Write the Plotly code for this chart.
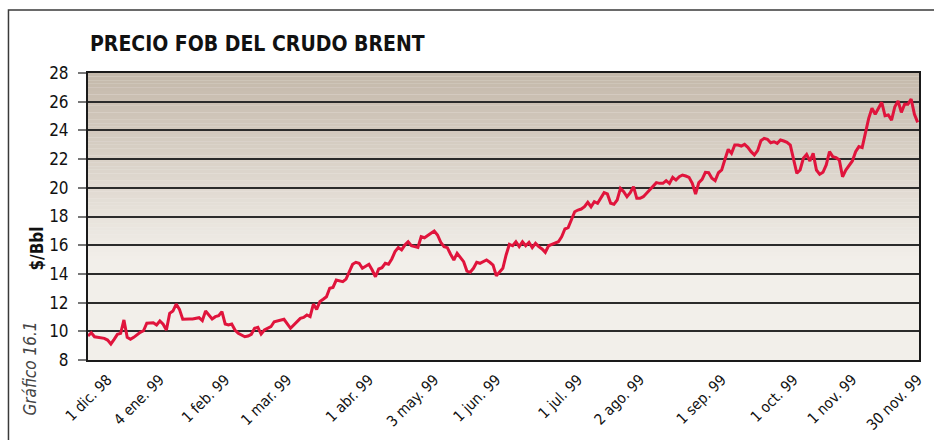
import plotly.graph_objects as go

# Sesiones de cotización (índice de día hábil desde el 1 dic. 98) y precio FOB del Brent
sesion = [
    0, 1, 2, 4, 5, 6, 7, 8, 9, 10, 11, 12, 13, 14, 16, 17, 18, 20, 21, 22,
    23, 24, 25, 26, 27, 28, 29, 31, 32, 34, 35, 36, 37, 38, 39, 40, 41, 42, 43, 44,
    45, 46, 48, 49, 50, 51, 52, 53, 54, 56, 57, 59, 60, 62, 63, 65, 66, 67, 68, 69,
    70, 71, 72, 73, 74, 75, 76, 78, 79, 80, 81, 82, 83, 84, 86, 87, 88, 89, 90, 91,
    92, 93, 94, 95, 96, 97, 98, 99, 100, 101, 102, 103, 105, 106, 107, 108, 109, 110, 111, 112,
    113, 114, 115, 116, 117, 118, 119, 120, 121, 122, 123, 124, 125, 126, 127, 128, 129, 130, 131, 132,
    133, 134, 135, 136, 137, 138, 139, 140, 141, 142, 143, 144, 145, 146, 147, 148, 149, 150, 151, 152,
    153, 154, 155, 156, 157, 158, 159, 160, 161, 162, 163, 164, 165, 166, 167, 168, 169, 170, 171, 173,
    174, 175, 176, 177, 178, 179, 180, 181, 182, 183, 184, 185, 186, 187, 188, 189, 190, 191, 192, 193,
    194, 195, 196, 197, 198, 199, 200, 201, 202, 203, 204, 205, 206, 207, 208, 209, 210, 211, 212, 213,
    214, 215, 216, 217, 218, 219, 220, 221, 222, 223, 224, 225, 226, 227, 228, 229, 230, 231, 232, 233,
    234, 235, 236, 237, 238, 239, 240, 241, 242, 243, 244, 245, 246, 247, 248, 249, 250, 251, 252, 253,
    254,
]
precio = [
    9.67, 9.90, 9.62, 9.58, 9.51, 9.39, 9.12, 9.44, 9.79, 9.86, 10.79, 9.58, 9.44, 9.58, 9.93, 10.04, 10.56, 10.60, 10.44, 10.72,
    10.49, 10.09, 11.25, 11.41, 11.90, 11.53, 10.84, 10.86, 10.86, 10.95, 10.74, 11.41, 11.14, 10.86, 11.02, 11.09, 11.37, 10.51, 10.44, 10.51,
    10.09, 9.86, 9.62, 9.67, 9.79, 10.21, 10.28, 9.81, 10.09, 10.32, 10.67, 10.79, 10.84, 10.21, 10.44, 10.90, 10.97, 11.14, 11.02, 11.90,
    11.53, 12.07, 12.23, 12.41, 13.00, 13.06, 13.57, 13.46, 13.64, 14.15, 14.67, 14.81, 14.74, 14.39, 14.67, 14.27, 13.80, 14.34, 14.43, 14.74,
    14.67, 15.04, 15.55, 15.83, 15.67, 16.01, 16.24, 15.96, 15.90, 15.85, 16.59, 16.52, 16.83, 16.99, 16.71, 16.20, 15.90, 15.83, 15.37, 14.97,
    15.44, 15.13, 14.85, 14.20, 14.11, 14.39, 14.81, 14.74, 14.85, 14.97, 14.81, 14.62, 13.87, 14.15, 14.39, 15.32, 16.06, 15.96, 16.24, 15.90,
    16.24, 15.96, 16.20, 15.83, 16.13, 15.90, 15.74, 15.50, 15.96, 16.06, 16.13, 16.24, 16.59, 17.13, 17.22, 17.76, 18.33, 18.45, 18.52, 18.68,
    18.99, 18.68, 19.03, 18.92, 19.34, 19.66, 19.57, 18.92, 18.85, 19.15, 19.96, 19.73, 19.38, 19.66, 20.08, 19.27, 19.27, 19.38, 19.62, 20.08,
    20.36, 20.31, 20.31, 20.50, 20.31, 20.73, 20.54, 20.77, 20.89, 20.82, 20.73, 20.31, 19.57, 20.36, 20.59, 21.08, 21.05, 20.66, 20.50, 21.05,
    21.24, 21.99, 22.68, 22.40, 22.98, 22.98, 22.91, 23.03, 22.82, 22.52, 22.29, 22.59, 23.28, 23.45, 23.38, 23.14, 23.21, 23.10, 23.33, 23.26,
    23.17, 22.98, 21.94, 21.01, 21.24, 22.06, 22.33, 21.87, 22.40, 21.24, 20.94, 21.08, 21.59, 22.52, 22.17, 22.10, 21.94, 20.77, 21.24, 21.59,
    21.87, 22.52, 22.87, 22.80, 23.91, 24.84, 25.54, 25.12, 25.54, 25.96, 25.02, 25.07, 24.72, 25.65, 26.05, 25.26, 25.82, 25.82, 26.19, 25.12,
    24.56,
]

# Rótulos del eje de fechas y la sesión en la que se sitúa cada uno
etiquetas = ["1 dic. 98", "4 ene. 99", "1 feb. 99", "1 mar. 99", "1 abr. 99", "3 may. 99",
             "1 jun. 99", "1 jul. 99", "2 ago. 99", "1 sep. 99", "1 oct. 99", "1 nov. 99", "30 nov. 99"]
sesion_etiqueta = [6, 22, 42, 61, 86, 106, 125, 150, 169, 194, 216, 234, 254]

valores_y = list(range(8, 30, 2))

FONT = "DejaVu Sans Condensed, DejaVu Sans, sans-serif"
ROJO = "#e0143c"

fig = go.Figure()
fig.add_trace(go.Scatter(
    x=sesion, y=precio, mode="lines",
    line=dict(color=ROJO, width=3),
    hoverinfo="skip", showlegend=False,
))

# Fondo del área de trazado: degradado de tostado (arriba) a crema claro
shapes = []
top_c = (196, 184, 170)
bot_c = (242, 239, 234)
y_lo, y_hi, paso = 15.0, 28.0, 0.25
n = int((y_hi - y_lo) / paso)
for i in range(n):
    a = y_lo + i * paso
    t = (a + paso / 2 - y_lo) / (y_hi - y_lo)
    c = tuple(round(bot_c[k] + t * (top_c[k] - bot_c[k])) for k in range(3))
    shapes.append(dict(type="rect", xref="paper", yref="y", x0=0, x1=1, y0=a, y1=a + paso,
                       fillcolor="rgb(%d,%d,%d)" % c, line=dict(width=0), layer="below"))

# Marco exterior del gráfico
shapes.append(dict(type="rect", xref="paper", yref="paper",
                   x0=-0.0957, y0=-0.35, x1=1.2, y1=1.2195,
                   line=dict(color="#3a3a3a", width=1.5), fillcolor="rgba(0,0,0,0)", layer="above"))

fig.update_layout(
    width=934, height=440,
    margin=dict(l=88, r=15, t=73, b=80),
    paper_bgcolor="white",
    plot_bgcolor="rgb(%d,%d,%d)" % bot_c,
    shapes=shapes,
    font=dict(family=FONT, size=16, color="#111"),
    annotations=[
        dict(text="<b>PRECIO FOB DEL CRUDO BRENT</b>", xref="paper", yref="paper",
             x=0.0, y=1.101, xanchor="left", yanchor="middle", showarrow=False,
             font=dict(family=FONT, size=21, color="#111")),
        dict(text="<b>$/Bbl</b>", xref="paper", yref="paper", x=-0.0608, y=0.39,
             textangle=-90, showarrow=False, xanchor="center", yanchor="middle",
             font=dict(family=FONT, size=17, color="#111")),
        dict(text="<i>Gráfico 16.1</i>", xref="paper", yref="paper", x=-0.0692, y=-0.028,
             textangle=-90, showarrow=False, xanchor="center", yanchor="middle",
             font=dict(family=FONT, size=17, color="#444")),
    ],
)

fig.update_xaxes(
    range=[0, 254.4], showgrid=False, zeroline=False, automargin=False,
    showline=True, linecolor="#1a1a1a", linewidth=2, mirror=True,
    tickmode="array", tickvals=sesion_etiqueta, ticktext=etiquetas,
    tickangle=-45, ticks="", ticklabelstandoff=3,
    tickfont=dict(family=FONT, size=15, color="#111"),
)
fig.update_yaxes(
    range=[8, 28], tickmode="array", tickvals=valores_y, automargin=False,
    showgrid=True, gridcolor="#2b2b2b", gridwidth=1.5, zeroline=False,
    showline=True, linecolor="#1a1a1a", linewidth=2, mirror=True,
    ticks="outside", ticklen=8, tickwidth=2, tickcolor="#777",
    ticklabelstandoff=6,
    tickfont=dict(family=FONT, size=17, color="#111"),
)

fig.write_html("out.html")
